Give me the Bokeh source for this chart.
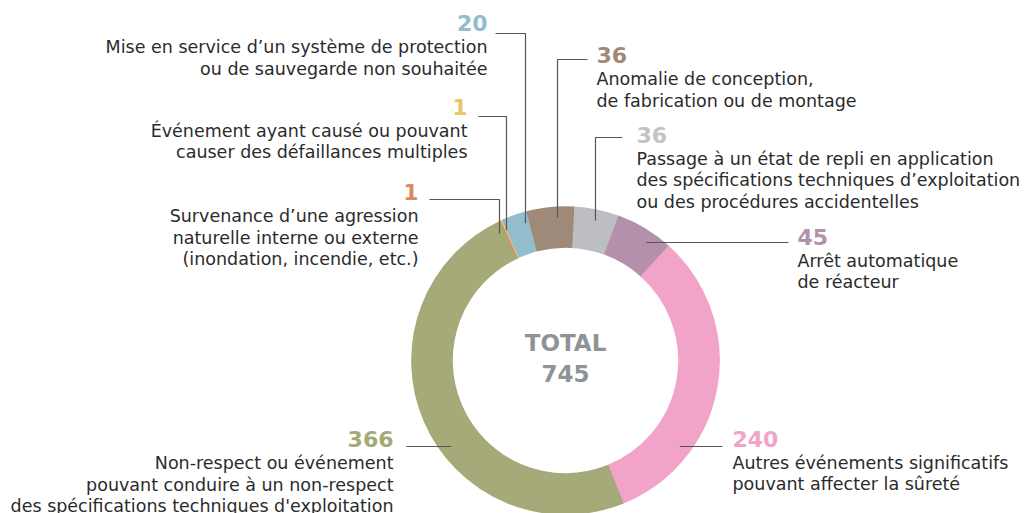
import math
from bokeh.plotting import figure
from bokeh.models import Range1d, ColumnDataSource
from bokeh.core.properties import value
from bokeh.embed import file_html
from bokeh.resources import INLINE

# ---------------- data (clockwise order, starting just right of 12 o'clock) ----------------
categories = [
    "Passage à un état de repli",
    "Arrêt automatique de réacteur",
    "Autres événements significatifs",
    "Non-respect des STE",
    "Agression naturelle",
    "Défaillances multiples",
    "Mise en service protection",
    "Anomalie de conception",
]
values = [36, 45, 240, 366, 1, 1, 20, 36]
colors = ["#bdbec1", "#b590ab", "#f2a3c8", "#a6a978", "#d98b5e", "#ecc46e", "#93bccc", "#9f8a79"]
num_colors = ["#c3c3c5", "#b590ab", "#f2a3c8", "#a6a978", "#d98b5e", "#ecc46e", "#93bccc", "#9f8a79"]
descriptions = [
    ["Passage à un état de repli en application",
     "des spécifications techniques d’exploitation",
     "ou des procédures accidentelles"],
    ["Arrêt automatique", "de réacteur"],
    ["Autres événements significatifs", "pouvant affecter la sûreté"],
    ["Non-respect ou événement", "pouvant conduire à un non-respect",
     "des spécifications techniques d'exploitation"],
    ["Survenance d’une agression", "naturelle interne ou externe",
     "(inondation, incendie, etc.)"],
    ["Événement ayant causé ou pouvant", "causer des défaillances multiples"],
    ["Mise en service d’un système de protection", "ou de sauvegarde non souhaitée"],
    ["Anomalie de conception,", "de fabrication ou de montage"],
]
total_label = ["TOTAL", str(sum(values))]

# ---------------- layout (pixel coordinates of the picture) ----------------
W, H = 1024, 513
CX, CY = 565, 360
R_OUT, R_IN, R_LEAD = 153.5, 113.5, 143
START_CW = 3.0  # degrees clockwise from 12 o'clock

# label anchor: (x, align, vertical centre of the number)
label_layout = [
    (636, "left", 134),
    (797, "left", 236),
    (732, "left", 438),
    (393, "right", 438.5),
    (418, "right", 191.5),
    (467, "right", 106),
    (487, "right", 22.5),
    (596, "left", 54.5),
]
# leader: ("v", x_vertical, y_horizontal, x_far) or ("h", y, x_far)
leaders = [
    ("v", 595, 137, 622),
    ("h", 242, 788),
    ("h", 446, 722),
    ("h", 446, 406),
    ("v", 499, 199, 429),
    ("v", 506, 116, 478),
    ("v", 525, 33, 495),
    ("v", 557, 59, 587),
]

FONT = "DejaVu Sans"
DESC_SIZE = "17.5px"
NUM_SIZE = "22px"
FIRST_GAP = 24.0
LINE_H = 21.5
TEXT_COLOR = "#2b2b2b"
LEAD_COLOR = "#555555"


def Y(py):
    return H - py


p = figure(width=W, height=H, output_backend="svg", toolbar_location=None,
           x_range=Range1d(0, W), y_range=Range1d(0, H),
           min_border=0)
p.axis.visible = False
p.grid.visible = False
p.outline_line_color = None
p.background_fill_color = "white"
p.border_fill_color = "white"

# ---------------- donut ----------------
total = sum(values)
starts, ends = [], []
acc = START_CW
for v in values:
    a0 = acc
    a1 = acc + v / total * 360.0
    acc = a1
    starts.append(math.radians(90 - a1))
    ends.append(math.radians(90 - a0))

src = ColumnDataSource(dict(x=[CX] * len(values), y=[Y(CY)] * len(values),
                            start=starts, end=ends, color=colors))
p.annular_wedge(x="x", y="y", inner_radius=R_IN, outer_radius=R_OUT,
                start_angle="start", end_angle="end", fill_color="color",
                line_color="color", line_width=1.6, source=src)

# ---------------- leaders ----------------
for ld in leaders:
    if ld[0] == "v":
        _, xv, yh, xf = ld
        yend = CY - math.sqrt(R_LEAD ** 2 - (xv - CX) ** 2)
        xs = [xf, xv, xv]
        ys = [Y(yh), Y(yh), Y(yend)]
    else:
        _, yh, xf = ld
        dx = math.sqrt(R_LEAD ** 2 - (yh - CY) ** 2)
        xend = CX + dx if xf > CX else CX - dx
        xs = [xf, xend]
        ys = [Y(yh), Y(yh)]
    p.line(xs, ys, line_color=LEAD_COLOR, line_width=1.2)

# ---------------- labels ----------------
for i, v in enumerate(values):
    x, align, nc = label_layout[i]
    p.text(x=[x], y=[Y(nc)], text=[str(v)], text_align=align,
           text_baseline="middle", text_font=value(FONT),
           text_font_style="bold", text_font_size=NUM_SIZE,
           text_color=num_colors[i])
    lines = descriptions[i]
    p.text(x=[x] * len(lines),
           y=[Y(nc + FIRST_GAP + k * LINE_H) for k in range(len(lines))],
           text=lines, text_align=align, text_baseline="middle",
           text_font=value(FONT), text_font_size=DESC_SIZE, text_color=TEXT_COLOR)

# ---------------- centre total ----------------
p.text(x=[CX, CX], y=[Y(342.5), Y(372.5)], text=total_label, text_align="center",
       text_baseline="middle", text_font=value(FONT), text_font_style="bold",
       text_font_size="23px", text_color="#8e9396")

open("out.html", "w").write(file_html(p, INLINE))
